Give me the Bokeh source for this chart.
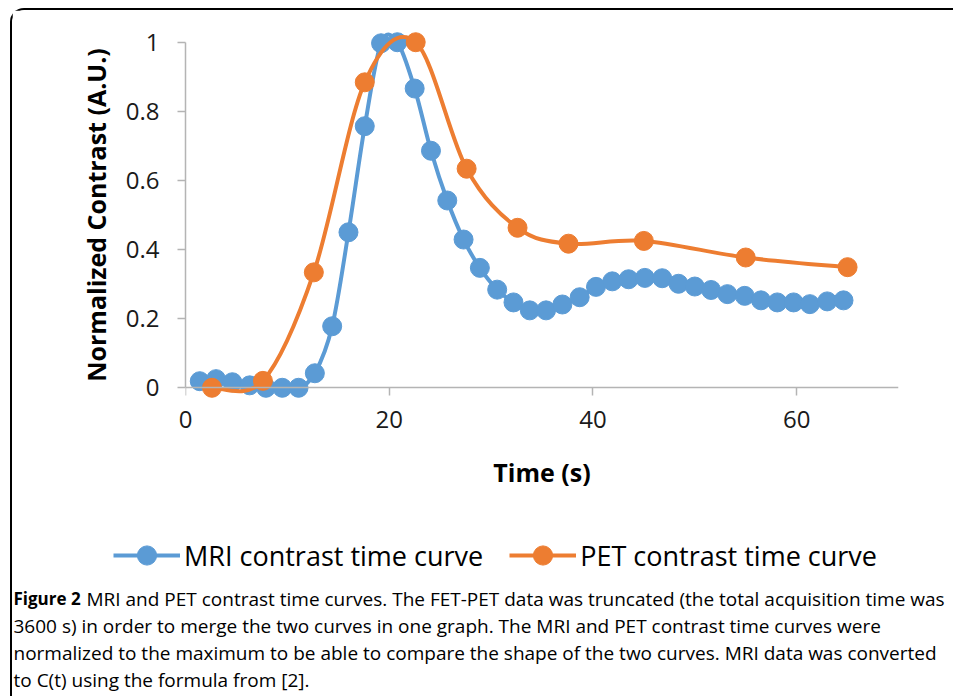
from bokeh.plotting import figure
from bokeh.layouts import column
from bokeh.models import Range1d, Legend, LegendItem, ColumnDataSource, LinearAxis
from bokeh.core.properties import value
from bokeh.embed import file_html
from bokeh.resources import INLINE

# ---- data ----
mri_t = [1.4, 3.0, 4.6, 6.3, 7.9, 9.5, 11.1, 12.7, 14.4, 16.0,
         17.6, 19.2, 20.8, 22.5, 24.1, 25.7, 27.3, 28.9, 30.6, 32.2,
         33.8, 35.4, 37.0, 38.7, 40.3, 41.9, 43.5, 45.1, 46.8, 48.4,
         50.0, 51.6, 53.2, 54.9, 56.5, 58.1, 59.7, 61.3, 63.0, 64.6]
mri_c = [0.019, 0.025, 0.016, 0.007, 0.0, 0.0, 0.0, 0.042, 0.178, 0.45,
         0.757, 0.997, 1.0, 0.866, 0.686, 0.542, 0.429, 0.347, 0.284, 0.247,
         0.224, 0.224, 0.241, 0.262, 0.292, 0.308, 0.314, 0.318, 0.317, 0.301,
         0.293, 0.283, 0.271, 0.266, 0.253, 0.247, 0.247, 0.242, 0.250, 0.253]
pet_t = [2.6, 7.6, 12.6, 17.6, 22.6, 27.6, 32.6, 37.6, 45.0, 55.0, 65.0]
pet_c = [0.0, 0.02, 0.334, 0.884, 1.0, 0.634, 0.463, 0.417, 0.425, 0.377, 0.349]

x_ticks = [0, 20, 40, 60]
y_ticks = [0, 0.2, 0.4, 0.6, 0.8, 1]
y_tick_labels = {0: "0", 0.2: "0.2", 0.4: "0.4", 0.6: "0.6", 0.8: "0.8", 1: "1"}

series_names = ["MRI contrast time curve", "PET contrast time curve"]
caption_bold = "Figure 2"
caption_lines = [
    "MRI and PET contrast time curves. The FET-PET data was truncated (the total acquisition time was",
    "3600 s) in order to merge the two curves in one graph. The MRI and PET contrast time curves were",
    "normalized to the maximum to be able to compare the shape of the two curves. MRI data was converted",
    "to C(t) using the formula from [2].",
]

BLUE = "#5B9BD5"
ORANGE = "#ED7D31"
AXIS_GREY = "#B4B4B4"
FONT = "Open Sans"
W = 941
H1 = 520
H2 = 166


def smooth_segments(xs, ys):
    """Cubic Bezier segments through the data points (spreadsheet-style smoothed line)."""
    n = len(xs)
    d = dict(x0=[], y0=[], x1=[], y1=[], cx0=[], cy0=[], cx1=[], cy1=[])
    for i in range(n - 1):
        a = i - 1 if i > 0 else i
        b = i + 2 if i + 2 < n else i + 1
        d["x0"].append(xs[i]); d["y0"].append(ys[i])
        d["x1"].append(xs[i + 1]); d["y1"].append(ys[i + 1])
        d["cx0"].append(xs[i] + (xs[i + 1] - xs[a]) / 6.0)
        d["cy0"].append(ys[i] + (ys[i + 1] - ys[a]) / 6.0)
        d["cx1"].append(xs[i + 1] - (xs[b] - xs[i]) / 6.0)
        d["cy1"].append(ys[i + 1] - (ys[b] - ys[i]) / 6.0)
    return ColumnDataSource(d)


# ---------------- main chart ----------------
p = figure(width=W, height=H1,
           x_range=Range1d(0, 70), y_range=Range1d(-0.06, 1.06),
           output_backend="svg", toolbar_location=None,
           min_border_left=173, min_border_right=W - 173 - 713,
           min_border_top=11, min_border_bottom=H1 - 11 - 387)
p.outline_line_color = None
p.xgrid.visible = False
p.ygrid.visible = False
p.background_fill_color = "white"
p.border_fill_color = "white"

for ax in (p.xaxis[0], p.yaxis[0]):
    ax.axis_line_color = AXIS_GREY
    ax.axis_line_width = 1.5
    ax.major_tick_line_color = AXIS_GREY
    ax.major_tick_line_width = 1.5
    ax.minor_tick_line_color = None
    ax.major_tick_in = 0
    ax.major_tick_out = 8
    ax.major_label_text_font = FONT
    ax.major_label_text_font_size = "24px"
    ax.major_label_text_color = "#1a1a1a"
    ax.axis_label_text_font = FONT
    ax.axis_label_text_font_style = "bold"
    ax.axis_label_text_font_size = "25px"
    ax.axis_label_text_color = "#000000"

# x axis: labels on the frame edge, line + ticks drawn at y = 0 by a second axis
p.xaxis.ticker = x_ticks
p.xaxis.axis_line_color = None
p.xaxis.major_tick_line_color = None
p.xaxis.major_tick_out = 0
p.xaxis.major_label_standoff = 2
p.xaxis.axis_label = "Time (s)"
p.xaxis.axis_label_standoff = 24

zero_axis = LinearAxis(ticker=x_ticks, bounds=(0, 70), fixed_location=0,
                       axis_line_color=AXIS_GREY, axis_line_width=1.5,
                       major_tick_line_color=AXIS_GREY, major_tick_line_width=1.5,
                       major_tick_in=0, major_tick_out=8, minor_tick_line_color=None,
                       major_label_text_font_size="0px", major_label_text_color=None)
p.add_layout(zero_axis, "below")

p.yaxis.ticker = y_ticks
p.yaxis.major_label_overrides = y_tick_labels
p.yaxis.bounds = (0, 1)
p.yaxis.axis_label = "Normalized Contrast (A.U.)"
p.yaxis.major_label_standoff = 18
p.yaxis.axis_label_standoff = 10

mri_src = ColumnDataSource(dict(t=mri_t, c=mri_c))
pet_src = ColumnDataSource(dict(t=pet_t, c=pet_c))

line_style = dict(x0="x0", y0="y0", x1="x1", y1="y1", cx0="cx0", cy0="cy0",
                  cx1="cx1", cy1="cy1", line_width=4)
p.bezier(source=smooth_segments(mri_t, mri_c), line_color=BLUE, **line_style)
p.scatter("t", "c", source=mri_src, marker="circle", size=19,
          fill_color=BLUE, line_color=BLUE)
p.bezier(source=smooth_segments(pet_t, pet_c), line_color=ORANGE, **line_style)
p.scatter("t", "c", source=pet_src, marker="circle", size=19,
          fill_color=ORANGE, line_color=ORANGE)

# ---------------- legend + caption panel (pixel coordinates, y downward) ----------------
q = figure(width=W, height=H2, x_range=Range1d(0, W), y_range=Range1d(H2, 0),
           output_backend="svg", toolbar_location=None,
           x_axis_location=None, y_axis_location=None,
           min_border=0, min_border_left=0, min_border_right=0,
           min_border_top=0, min_border_bottom=0)
q.outline_line_color = None
q.xgrid.visible = False
q.ygrid.visible = False
q.background_fill_color = "white"
q.border_fill_color = "white"
for fig in (p, q):
    try:
        fig.frame_align = False
    except Exception:
        pass

leg_items = []
for name, col, ts, cs in zip(series_names, (BLUE, ORANGE), (mri_t, pet_t), (mri_c, pet_c)):
    lr = q.line(x=ts, y=cs, line_color=col, line_width=4, visible=False)
    sr = q.scatter(x=ts, y=cs, marker="circle", size=19, fill_color=col,
                   line_color=col, visible=False)
    leg_items.append(LegendItem(label=name, renderers=[lr, sr]))

legend = Legend(items=leg_items, orientation="horizontal", location=(101, H2 - 25 - 24),
                glyph_width=67, glyph_height=48, label_standoff=4, spacing=26,
                padding=0, margin=0, border_line_color=None,
                background_fill_alpha=0,
                label_text_font=FONT, label_text_font_size="27px",
                label_text_color="#000000")
q.add_layout(legend, "center")

cap_src = ColumnDataSource(dict(x=[74, 1, 1, 1], y=[68, 95, 122, 149], text=caption_lines))
q.text(x="x", y="y", text="text", source=cap_src, text_font=value(FONT),
       text_font_size="19px", text_baseline="middle", text_color="#000000")
q.text(x=[1], y=[68], text=[caption_bold], text_font=value(FONT), text_font_style="bold",
       text_font_size="17px", text_baseline="middle", text_color="#000000")

layout = column(p, q, spacing=0,
                styles={"margin-left": "10px", "margin-top": "8px",
                        "border-left": "2px solid #000000", "border-top": "2px solid #000000",
                        "border-top-left-radius": "14px"})

open("out.html", "w").write(file_html(layout, INLINE))
